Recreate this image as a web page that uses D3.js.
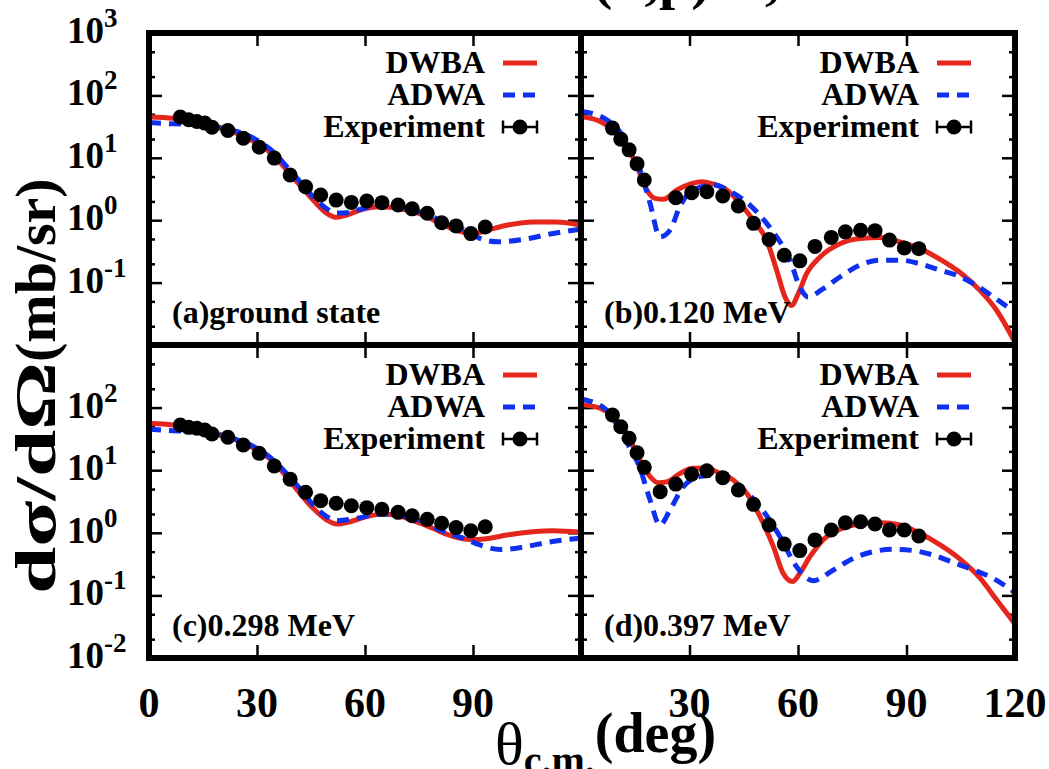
<!DOCTYPE html>
<html>
<head>
<meta charset="utf-8">
<script src="https://cdn.jsdelivr.net/npm/d3@7"></script>
<style>
  body { margin: 0; background: #fff; }
  svg { display: block; font-family: "Liberation Serif", "Times New Roman", serif; font-weight: bold; }
</style>
</head>
<body>
<svg id="chart" width="1049" height="769"></svg>
<script>
// angles (deg) of the measured points, same set for every state
const expAngles = [8.7, 11.0, 13.3, 15.5, 17.5, 21.9, 26.2, 30.6, 34.8, 39.2, 43.5, 47.7,
                   52.0, 56.2, 60.5, 64.7, 69.2, 73.1, 77.3, 81.3, 85.3, 89.4, 93.4];

// measured cross sections (mb/sr)
const expA = [45, 40.7, 38.2, 36, 31, 27.4, 20.6, 14.8, 9.9, 5.3, 3.44, 2.53,
              2.1, 1.93, 2.03, 1.91, 1.75, 1.52, 1.29, 0.91, 0.81, 0.61, 0.78];
const expB = [29.9, 19.9, 13.4, 8.0, 4.4, null, 2.29, 2.76, 2.86, 2.44, 1.69, 0.89,
              0.49, 0.275, 0.223, 0.38, 0.53, 0.65, 0.69, 0.68, 0.48, 0.36, 0.35];
const expC = [52.7, 48.4, 46.7, 43.9, 37.9, 33.6, 25.3, 18.6, 11.7, 7.2, 4.44, 3.26,
              2.96, 2.71, 2.52, 2.37, 2.12, 1.87, 1.64, 1.42, 1.21, 1.08, 1.25];
const expD = [76.2, 49.5, 32.4, 19.0, 11.1, 4.54, 6.0, 8.6, 9.8, 7.6, 4.83, 2.85,
              1.33, 0.66, 0.52, 0.77, 1.11, 1.45, 1.50, 1.38, 1.11, 1.11, 0.89];

// DWBA curves [angle, sigma]
const dwbaA = [[0,45],[6.8,43],[12.3,39.7],[18.8,31.8],[25.3,23.3],[30.8,16.1],[34.5,11.1],[38.2,6.4],
  [41.9,3.66],[45.6,2.1],[49.4,1.29],[52.1,1.11],[54.9,1.21],[58.6,1.45],[64.2,1.64],[67.9,1.6],
  [71.6,1.45],[76.2,1.21],[80.8,0.89],[85.5,0.69],[90.1,0.61],[93.8,0.69],[99.4,0.83],[106.7,0.94],
  [113.2,0.94],[120,0.83]];
const dwbaB = [[0,46],[5.3,38.2],[8.9,28.1],[12.6,16.1],[15.9,6.4],[18.2,3.05],[20.5,2.24],[22.8,2.16],
  [26.5,3.05],[30.1,3.8],[33.4,4.15],[36.6,3.8],[40.3,3.05],[44,1.86],[47.6,1.0],[51.3,0.48],
  [54.1,0.158],[56.4,0.059],[58.2,0.043],[60.1,0.067],[62.4,0.14],[66.1,0.258],[71.6,0.42],[77.1,0.51],
  [82.7,0.53],[88.2,0.45],[93.7,0.35],[99.3,0.235],[104.8,0.145],[110.3,0.075],[114.9,0.036],[120,0.011]];
const dwbaC = [[0,56],[6.8,52.7],[12.3,48.4],[18.8,38.8],[25.3,28.5],[30.8,19.8],[34.5,13.7],[38.2,7.9],
  [41.9,4.28],[45.6,2.46],[49.4,1.6],[52.1,1.38],[55.8,1.5],[60.4,1.81],[65,2.0],[69.6,1.85],
  [74.2,1.5],[78.8,1.18],[83.4,0.92],[88.2,0.79],[91,0.78],[94.7,0.82],[99.4,0.92],[106.7,1.04],
  [112.3,1.08],[120,1.02]];
const dwbaD = [[0,112],[5.3,97.5],[8.9,71.6],[12.6,38.8],[16.3,14.6],[19.1,7.9],[21.4,6.3],[23.7,6.5],
  [27.4,8.9],[31,10.7],[34.7,10.7],[38.4,8.9],[42.1,7.0],[45.8,4.28],[49.5,1.81],[53.2,0.6],
  [55.9,0.225],[58.5,0.166],[60.5,0.225],[63.3,0.415],[66.9,0.77],[71.6,1.14],[77.1,1.38],[82.7,1.45],
  [88.2,1.33],[93.7,0.98],[99.3,0.64],[104.8,0.38],[110.3,0.19],[114.9,0.085],[120,0.035]];

// ADWA curves [angle, sigma]
const adwaA = [[0,36.8],[6.8,35],[12.3,34],[18.8,30.5],[25.3,25.5],[30.8,18],[34.5,12.5],[38.2,7.3],
  [42,4.1],[45.5,2.4],[47.5,1.86],[50,1.45],[52.1,1.3],[55,1.32],[57.8,1.45],[64.2,1.75],[71.6,1.55],
  [76.2,1.3],[80.8,1.0],[85,0.78],[88.2,0.69],[91.9,0.51],[97,0.45],[103.9,0.49],[111.4,0.6],
  [117.9,0.69],[120,0.72]];
const adwaB = [[0,56],[7.1,40.7],[11.7,21.9],[16.3,6.4],[19.1,1.86],[21.8,0.54],[24.6,0.69],[27.3,1.64],
  [31,3.05],[36.6,3.66],[42.1,2.7],[46.7,1.75],[51,0.94],[54.1,0.54],[57.8,0.229],[60.5,0.085],
  [62.8,0.059],[67,0.08],[71.6,0.123],[77.1,0.19],[82.7,0.229],[88.2,0.229],[93.7,0.2],[99.3,0.158],
  [103.9,0.131],[108.5,0.096],[114,0.059],[120,0.033]];
const adwaC = [[0,45],[6.8,42.8],[12.3,41],[18.8,37],[25.3,29.5],[30.8,21],[34.5,14.5],[38.2,8.9],
  [42,5.0],[46.5,2.46],[49.5,1.8],[52.1,1.56],[57.8,1.71],[64.2,2.0],[71.6,1.81],[76.2,1.5],
  [80.8,1.11],[87.3,0.82],[91.9,0.64],[97.5,0.54],[103.9,0.59],[110.5,0.70],[116.9,0.79],[120,0.82]];
const adwaD = [[0,138],[7.1,91.5],[11.7,34.3],[16.3,10.7],[19.1,3.34],[21.8,1.33],[24.6,2.31],[28.3,5.45],
  [32.9,7.9],[38.4,8.4],[43.9,5.45],[49.5,2.61],[55,0.87],[59.6,0.287],[64.2,0.172],[69.8,0.255],
  [75.3,0.39],[80.8,0.5],[86.4,0.545],[91.9,0.52],[97.4,0.44],[103,0.333],[108.5,0.255],[114,0.187],
  [120,0.11]];

const panelLabels = ["(a)ground state", "(b)0.120 MeV", "(c)0.298 MeV", "(d)0.397 MeV"];
const legendLabels = ["DWBA", "ADWA", "Experiment"];
const xTickValues = [30, 60, 90];
const xTickLabelsLeft = [0, 30, 60, 90];
const xTickLabelsRight = [30, 60, 90, 120];
const yMajorTicks = [0.01, 0.1, 1, 10, 100, 1000];
const yMinorTicks = [0.02, 0.05, 0.2, 0.5, 2, 5, 20, 50, 200, 500];
const yLabelsTop = [3, 2, 1, 0, -1];
const yLabelsBottom = [2, 1, 0, -1, -2];

const red = "#e5261c", blue = "#1030f0";

const svg = d3.select("#chart");
svg.append("rect").attr("width", 1049).attr("height", 769).attr("fill", "#fff");

// layout of the 2x2 grid
const gLeft = 149, gMid = 581, gRight = 1015, gTop = 33, gRow = 345, gBottom = 658;

const xScales = [
  d3.scaleLinear().domain([0, 120]).range([gLeft, gMid]),
  d3.scaleLinear().domain([0, 120]).range([gMid, gRight])
];
const yScales = [
  d3.scaleLog().domain([0.01, 1000]).range([gRow, gTop]),
  d3.scaleLog().domain([0.01, 1000]).range([gBottom, gRow])
];

const panels = [
  { col: 0, row: 0, label: panelLabels[0], dwba: dwbaA, adwa: adwaA, exp: expA },
  { col: 1, row: 0, label: panelLabels[1], dwba: dwbaB, adwa: adwaB, exp: expB },
  { col: 0, row: 1, label: panelLabels[2], dwba: dwbaC, adwa: adwaC, exp: expC },
  { col: 1, row: 1, label: panelLabels[3], dwba: dwbaD, adwa: adwaD, exp: expD }
];

const defs = svg.append("defs");

panels.forEach((p, i) => {
  const x = xScales[p.col], y = yScales[p.row];
  const [x0, x1] = x.range();
  const [y0, y1] = y.range(); // y0 bottom, y1 top

  defs.append("clipPath").attr("id", "clip" + i)
    .append("rect")
    .attr("x", x0).attr("y", y1)
    .attr("width", x1 - x0).attr("height", y0 - y1);

  const g = svg.append("g");

  // ticks on all four sides, pointing inward
  const tickStyle = sel => {
    sel.select(".domain").remove();
    sel.selectAll("line").attr("stroke", "#000").attr("stroke-width", 2.5);
  };
  [[d3.axisRight, x0], [d3.axisLeft, x1]].forEach(([ax, pos]) => {
    g.append("g").attr("transform", `translate(${pos},0)`)
      .call(ax(y).tickValues(yMajorTicks).tickSize(13).tickSizeOuter(0).tickFormat(""))
      .call(tickStyle);
    g.append("g").attr("transform", `translate(${pos},0)`)
      .call(ax(y).tickValues(yMinorTicks).tickSize(6).tickSizeOuter(0).tickFormat(""))
      .call(tickStyle);
  });
  [[d3.axisBottom, y1], [d3.axisTop, y0]].forEach(([ax, pos]) => {
    g.append("g").attr("transform", `translate(0,${pos})`)
      .call(ax(x).tickValues(xTickValues).tickSize(13).tickSizeOuter(0).tickFormat(""))
      .call(tickStyle);
  });

  const line = d3.line()
    .x(d => x(d[0]))
    .y(d => y(d[1]))
    .curve(d3.curveMonotoneX);

  const plot = g.append("g").attr("clip-path", `url(#clip${i})`);

  plot.append("path")
    .datum(p.dwba)
    .attr("d", line)
    .attr("fill", "none")
    .attr("stroke", red)
    .attr("stroke-width", 5);

  plot.append("path")
    .datum(p.adwa)
    .attr("d", line)
    .attr("fill", "none")
    .attr("stroke", blue)
    .attr("stroke-width", 5)
    .attr("stroke-dasharray", "12,8");

  const pts = expAngles.map((a, k) => [a, p.exp[k]]).filter(d => d[1] != null);
  plot.selectAll("circle")
    .data(pts)
    .enter().append("circle")
    .attr("cx", d => x(d[0]))
    .attr("cy", d => y(d[1]))
    .attr("r", 7.5)
    .attr("fill", "#000");

  // legend
  const lg = g.append("g").attr("font-size", 32);
  legendLabels.forEach((t, k) => {
    const base = y1 + 40 + k * 32;
    lg.append("text")
      .attr("x", x1 - 96).attr("y", base)
      .attr("text-anchor", "end")
      .text(t);
    const ly = base - 10;
    if (k === 0 || k === 1) {
      lg.append("line")
        .attr("x1", x1 - 78).attr("x2", x1 - 44)
        .attr("y1", ly).attr("y2", ly)
        .attr("stroke", k === 0 ? red : blue)
        .attr("stroke-width", 5)
        .attr("stroke-dasharray", k === 1 ? "12,8" : null);
    } else {
      lg.append("path")
        .attr("d", `M${x1 - 78},${ly}H${x1 - 44}M${x1 - 78},${ly - 6.5}V${ly + 6.5}M${x1 - 44},${ly - 6.5}V${ly + 6.5}`)
        .attr("stroke", "#000")
        .attr("stroke-width", 2.5)
        .attr("fill", "none");
      lg.append("circle")
        .attr("cx", x1 - 61).attr("cy", ly)
        .attr("r", 7.5).attr("fill", "#000");
    }
  });

  // panel label
  g.append("text")
    .attr("x", x0 + 23).attr("y", y0 - 22)
    .attr("font-size", 32)
    .text(p.label);
});

// frame
svg.append("rect")
  .attr("x", gLeft).attr("y", gTop)
  .attr("width", gRight - gLeft).attr("height", gBottom - gTop)
  .attr("fill", "none").attr("stroke", "#000").attr("stroke-width", 6);
svg.append("line").attr("x1", gMid).attr("x2", gMid).attr("y1", gTop).attr("y2", gBottom)
  .attr("stroke", "#000").attr("stroke-width", 6);
svg.append("line").attr("x1", gLeft).attr("x2", gRight).attr("y1", gRow).attr("y2", gRow)
  .attr("stroke", "#000").attr("stroke-width", 6);

// y tick labels
[[yLabelsTop, yScales[0]], [yLabelsBottom, yScales[1]]].forEach(([exps, y]) => {
  exps.forEach(e => {
    const yy = y(Math.pow(10, e)) + 10;
    svg.append("text")
      .attr("x", 104).attr("y", yy)
      .attr("text-anchor", "end")
      .attr("font-size", 37)
      .text("10");
    svg.append("text")
      .attr("x", 104).attr("y", yy - 16)
      .attr("font-size", 27)
      .text(e);
  });
});

// x tick labels
[[xTickLabelsLeft, xScales[0]], [xTickLabelsRight, xScales[1]]].forEach(([vals, x]) => {
  vals.forEach(v => {
    svg.append("text")
      .attr("x", x(v)).attr("y", 717)
      .attr("text-anchor", "middle")
      .attr("font-size", 42)
      .text(v);
  });
});

// y axis title (two parts, the greek part is drawn wider as in the original)
svg.append("text")
  .attr("transform", "translate(55,594) rotate(-90)")
  .attr("font-size", 58)
  .attr("textLength", 232)
  .attr("lengthAdjust", "spacingAndGlyphs")
  .text("dσ/dΩ");
svg.append("text")
  .attr("transform", "translate(55,362) rotate(-90)")
  .attr("font-size", 58)
  .text("(mb/sr)");

const xt = svg.append("text").attr("x", 495).attr("y", 764);
xt.append("tspan").attr("font-size", 60).attr("font-weight", "normal").text("θ");
xt.append("tspan").attr("font-size", 40).attr("dy", 10).text("c.m.");
xt.append("tspan").attr("font-size", 56).attr("dy", -22).text("(deg)");

// title, mostly above the visible area
const tt = svg.append("text").attr("x", 593).attr("y", -2).attr("font-size", 58);
tt.append("tspan").text("(d,p)");
tt.append("tspan").attr("x", 765).text(",");
</script>
</body>
</html>
